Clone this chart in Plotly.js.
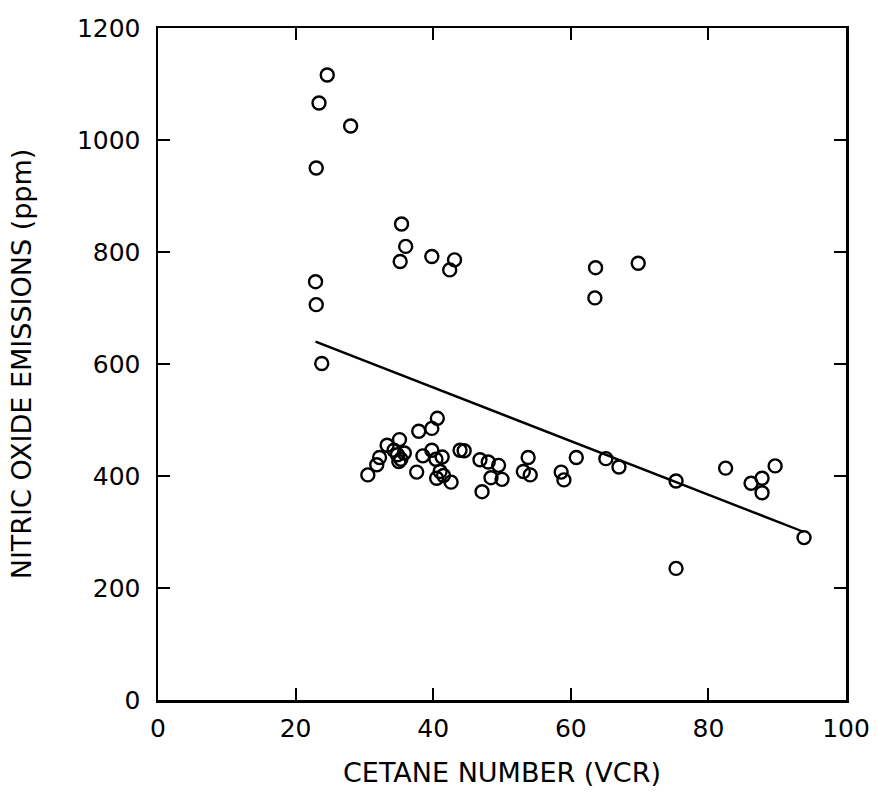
<!DOCTYPE html>
<html>
<head>
<meta charset="utf-8">
<script src="https://cdn.plot.ly/plotly-3.0.1.min.js"></script>
<style>html,body{margin:0;padding:0;background:#fff;}#chart{width:877px;height:800px;}</style>
</head>
<body>
<div id="chart"></div>
<script>
// Measured data: cetane number (VCR) vs nitric oxide emissions (ppm)
const cetane = [
  24.6, 23.4, 28.0, 23.0, 35.4, 36.0, 35.2, 39.8, 43.1, 42.4, 22.9, 23.0, 23.8, 63.6, 63.5, 69.8,
  30.5, 31.8, 32.2, 33.3, 34.3, 35.1, 34.8, 35.3, 35.8, 35.0, 37.6, 37.9, 38.5, 39.8, 40.6, 39.8,
  40.4, 41.3, 40.5, 41.0, 41.5, 42.6, 43.9, 44.5, 46.8, 48.0, 47.1, 48.4, 49.5, 50.0, 53.1, 53.8,
  54.1, 58.6, 59.0, 60.8, 65.1, 67.0, 75.3, 75.3, 82.5, 86.2, 87.8, 87.8, 89.7, 93.9
];
const noxPpm = [
  1116, 1066, 1025, 950, 850, 810, 783, 792, 786, 768, 747, 706, 601, 772, 718, 780,
  402, 420, 433, 455, 446, 465, 438, 430, 441, 426, 407, 480, 436, 485, 503, 446,
  430, 434, 396, 408, 401, 389, 446, 445, 429, 425, 372, 397, 419, 394, 408, 433,
  402, 407, 393, 433, 431, 416, 391, 235, 414, 387, 396, 370, 418, 290
];
// Fitted trend line end points
const fitX = [22.9, 93.9];
const fitY = [640, 300];

const xTicks = [0, 20, 40, 60, 80, 100];
const yTicks = [0, 200, 400, 600, 800, 1000, 1200];

const fontFamily = '"DejaVu Sans", "Liberation Sans", sans-serif';

const traces = [
  {
    x: fitX, y: fitY, type: 'scatter', mode: 'lines',
    line: {color: '#000', width: 2.4}, hoverinfo: 'skip', showlegend: false
  },
  {
    x: cetane, y: noxPpm, type: 'scatter', mode: 'markers',
    marker: {symbol: 'circle-open', size: 13, color: '#000', line: {color: '#000', width: 2.4}},
    showlegend: false
  }
];

const axisCommon = {
  showgrid: false, zeroline: false,
  showline: true, linecolor: '#000', linewidth: 2.5,
  mirror: 'ticks', ticks: 'inside', ticklen: 12, tickwidth: 2, tickcolor: '#000',
  tickfont: {family: fontFamily, size: 25, color: '#000'}
};

const layout = {
  width: 877, height: 800,
  margin: {l: 158, r: 31, t: 28, b: 100},
  paper_bgcolor: '#fff', plot_bgcolor: '#fff',
  font: {family: fontFamily, color: '#000'},
  xaxis: Object.assign({}, axisCommon, {
    range: [0, 100], tickvals: xTicks, ticktext: xTicks.map(String),
    ticklabelstandoff: 4,
    title: {text: 'CETANE NUMBER (VCR)', font: {family: fontFamily, size: 27, color: '#000'}, standoff: 22}
  }),
  yaxis: Object.assign({}, axisCommon, {
    range: [0, 1200], tickvals: yTicks, ticktext: yTicks.map(String),
    ticklabelstandoff: 10,
    title: {text: 'NITRIC OXIDE EMISSIONS (ppm)', font: {family: fontFamily, size: 27, color: '#000'}, standoff: 38}
  })
};

Plotly.newPlot('chart', traces, layout, {staticPlot: true, displayModeBar: false});
</script>
</body>
</html>
